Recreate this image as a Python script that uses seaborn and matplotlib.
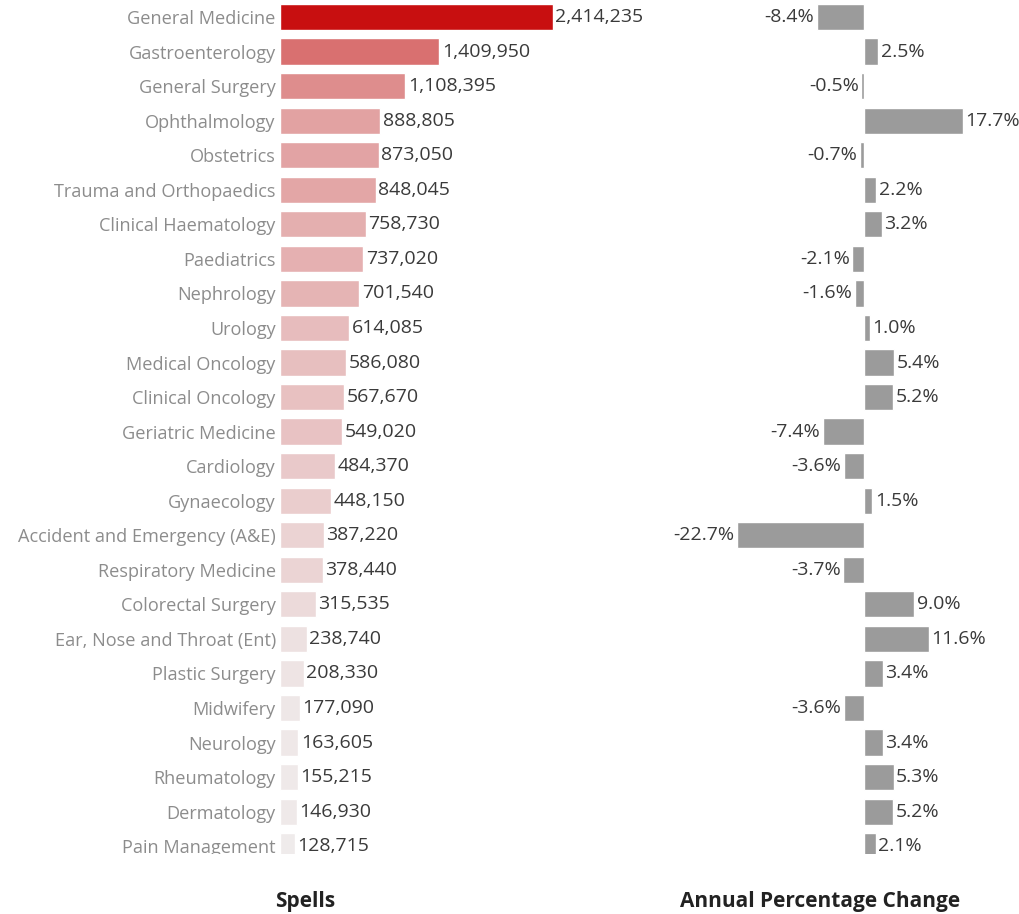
import matplotlib
matplotlib.use("Agg")
import matplotlib.pyplot as plt
import matplotlib.colors as mcolors
import numpy as np
import pandas as pd
import seaborn as sns

specialties = [
    "General Medicine", "Gastroenterology", "General Surgery", "Ophthalmology",
    "Obstetrics", "Trauma and Orthopaedics", "Clinical Haematology", "Paediatrics",
    "Nephrology", "Urology", "Medical Oncology", "Clinical Oncology",
    "Geriatric Medicine", "Cardiology", "Gynaecology", "Accident and Emergency (A&E)",
    "Respiratory Medicine", "Colorectal Surgery", "Ear, Nose and Throat (Ent)",
    "Plastic Surgery", "Midwifery", "Neurology", "Rheumatology", "Dermatology",
    "Pain Management",
]
spells = [
    2414235, 1409950, 1108395, 888805, 873050, 848045, 758730, 737020,
    701540, 614085, 586080, 567670, 549020, 484370, 448150, 387220,
    378440, 315535, 238740, 208330, 177090, 163605, 155215, 146930, 128715,
]
pct_change = [
    -8.4, 2.5, -0.5, 17.7, -0.7, 2.2, 3.2, -2.1, -1.6, 1.0, 5.4, 5.2,
    -7.4, -3.6, 1.5, -22.7, -3.7, 9.0, 11.6, 3.4, -3.6, 3.4, 5.3, 5.2, 2.1,
]

df = pd.DataFrame({"specialty": specialties, "spells": spells, "pct": pct_change})

sns.set_theme(style="white")
plt.rcParams["font.family"] = ["Open Sans", "DejaVu Sans"]

W, H = 1019, 914
fig = plt.figure(figsize=(W / 100, H / 100), dpi=100)

top_px, bottom_px = 0, 856
ax_b = 1 - bottom_px / H
ax_h = (bottom_px - top_px) / H
row_px = 34.55
ylim = ((bottom_px - 17) / row_px, (top_px - 17) / row_px)
LABEL_FS = 13.1
VALUE_FS = 14.0

# Continuous light-grey to red colour scale on spells
cmap = mcolors.LinearSegmentedColormap.from_list("spells", ["#efebeb", "#c80f10"])
norm = mcolors.Normalize(vmin=min(spells), vmax=max(spells))
palette = {s: cmap(norm(v)) for s, v in zip(specialties, spells)}

# Left panel: spells
ax1 = fig.add_axes([280 / W, ax_b, 330 / W, ax_h])
sns.barplot(data=df, y="specialty", x="spells", hue="specialty", palette=palette,
            legend=False, orient="h", width=0.76, ax=ax1, saturation=1)
ax1.set_xlim(0, 330 / 113 * 1e6)
ax1.set_ylim(*ylim)
for i, v in enumerate(spells):
    ax1.annotate(f"{v:,}", (v, i), xytext=(1.8, 0), textcoords="offset points",
                 va="center", ha="left", fontsize=VALUE_FS, color="#3a3a3a",
                 annotation_clip=False)
ax1.tick_params(axis="y", length=0, pad=3, labelsize=LABEL_FS, labelcolor="#8c8c8c")
ax1.set_xticks([])
ax1.set_xlabel("")
ax1.set_ylabel("")
for sp in ax1.spines.values():
    sp.set_visible(False)

# Right panel: annual percentage change
x0_px, x1_px, zero_px, px_per_pct = 620, 1019, 864, 5.6
ax2 = fig.add_axes([x0_px / W, ax_b, (x1_px - x0_px) / W, ax_h])
ax2.set_facecolor("none")
sns.barplot(data=df, y="specialty", x="pct", color="#9b9b9b", orient="h",
            width=0.76, ax=ax2, saturation=1)
ax2.set_xlim((x0_px - zero_px) / px_per_pct, (x1_px - zero_px) / px_per_pct)
ax2.set_ylim(*ylim)
for i, v in enumerate(pct_change):
    ax2.annotate(f"{v:.1f}%", (v, i), xytext=(1.8 if v >= 0 else -1.8, 0),
                 textcoords="offset points", va="center",
                 ha="left" if v >= 0 else "right", fontsize=VALUE_FS, color="#3a3a3a",
                 annotation_clip=False)
ax2.set_yticks([])
ax2.set_xticks([])
ax2.set_xlabel("")
ax2.set_ylabel("")
for sp in ax2.spines.values():
    sp.set_visible(False)

# Mask the partially visible last row below the view area
fig.add_artist(plt.Rectangle((0, 0), 1, 1 - 854 / H, transform=fig.transFigure,
                             facecolor="white", edgecolor="none", zorder=10))

fig.text(305 / W, 1 - 901 / H, "Spells", ha="center", va="center",
         fontsize=15, fontweight="bold", color="#222222", zorder=11)
fig.text(820 / W, 1 - 901 / H, "Annual Percentage Change", ha="center", va="center",
         fontsize=15, fontweight="bold", color="#222222", zorder=11)

fig.savefig("out.png", dpi=100, facecolor="white")
